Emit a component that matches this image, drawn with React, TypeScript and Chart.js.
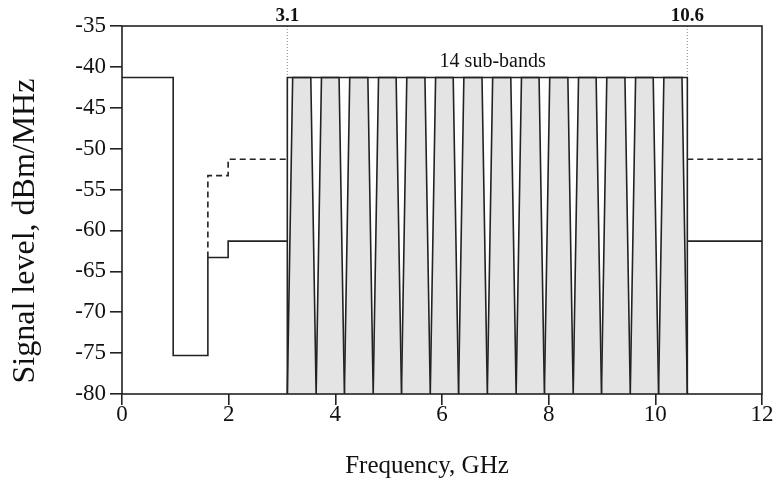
import { useEffect, useRef } from "react";
import { Chart, registerables } from "chart.js";

Chart.register(...registerables);

// Outdoor emission limit (solid), GHz / dBm per MHz
const outdoorFreq = [0, 0.96, 0.96, 1.61, 1.61, 1.99, 1.99, 3.1];
const outdoorLevel = [-41.3, -41.3, -75.3, -75.3, -63.3, -63.3, -61.3, -61.3];
const outdoorHighFreq = [10.6, 12];
const outdoorHighLevel = [-61.3, -61.3];

// Indoor emission limit (dashed)
const indoorFreq = [1.61, 1.61, 1.99, 1.99, 3.1];
const indoorLevel = [-63.3, -53.3, -53.3, -51.3, -51.3];
const indoorHighFreq = [10.6, 12];
const indoorHighLevel = [-51.3, -51.3];

// UWB band outline 3.1 – 10.6 GHz
const bandFreq = [3.1, 3.1, 10.6, 10.6];
const bandLevel = [-80, -41.3, -41.3, -80];

// 14 sub-band boundaries and their spectral shape
const subBandEdges = [3.1, 3.64, 4.17, 4.71, 5.24, 5.78, 6.31, 6.85, 7.39, 7.92, 8.46, 8.99, 9.53, 10.06, 10.6];
const subBandTopInset = 0.1;
const subBandPeak = -41.3;
const subBandFloor = -80;

// Band edge markers and annotation
const markerFreqs = [3.1, 10.6];
const markerLabels = ["3.1", "10.6"];
const markerTop = -35;
const noteText = "14 sub-bands";
const noteFreq = 6.95;
const noteLevel = -39.4;

const xTitle = "Frequency, GHz";
const yTitle = "Signal level, dBm/MHz";

const INK = "#222";
const SERIF = "'Liberation Serif', 'Times New Roman', serif";

const pts = (xs: number[], ys: number[]) => xs.map((x, i) => ({ x, y: ys[i] }));

export default function App() {
  const ref = useRef<HTMLCanvasElement | null>(null);

  useEffect(() => {
    if (!ref.current) return;
    document.body.style.margin = "0";
    document.documentElement.style.overflow = "hidden";

    const lineBase = {
      borderColor: INK,
      borderWidth: 1.6,
      pointRadius: 0,
      tension: 0,
      fill: false,
    };

    const datasets: any[] = [
      { ...lineBase, data: pts(outdoorFreq, outdoorLevel) },
      { ...lineBase, data: pts(outdoorHighFreq, outdoorHighLevel) },
      { ...lineBase, data: pts(bandFreq, bandLevel) },
      { ...lineBase, borderDash: [6, 4], data: pts(indoorFreq, indoorLevel) },
      { ...lineBase, borderDash: [6, 4], data: pts(indoorHighFreq, indoorHighLevel) },
    ];

    markerFreqs.forEach((f) => {
      datasets.push({
        ...lineBase,
        borderColor: "#888",
        borderWidth: 1,
        borderDash: [1, 2],
        data: [
          { x: f, y: markerTop },
          { x: f, y: subBandPeak },
        ],
      });
    });

    for (let i = 0; i < subBandEdges.length - 1; i++) {
      const a = subBandEdges[i];
      const b = subBandEdges[i + 1];
      datasets.push({
        ...lineBase,
        backgroundColor: "#e4e4e4",
        fill: "start",
        data: [
          { x: a, y: subBandFloor },
          { x: a + subBandTopInset, y: subBandPeak },
          { x: b - subBandTopInset, y: subBandPeak },
          { x: b, y: subBandFloor },
        ],
      });
    }

    const decor = {
      id: "decor",
      afterDraw(chart: any) {
        const { ctx, chartArea: ca, scales } = chart;
        const xs = scales.x;
        const ys = scales.y;
        ctx.save();
        ctx.strokeStyle = INK;
        ctx.lineWidth = 1.6;
        ctx.strokeRect(ca.left, ca.top, ca.right - ca.left, ca.bottom - ca.top);

        ctx.fillStyle = "#111";
        ctx.textAlign = "center";
        ctx.textBaseline = "alphabetic";
        ctx.font = `bold 19px ${SERIF}`;
        markerFreqs.forEach((f, i) => {
          ctx.fillText(markerLabels[i], xs.getPixelForValue(f), ca.top - 5);
        });

        ctx.font = `20px ${SERIF}`;
        ctx.textBaseline = "middle";
        ctx.fillText(noteText, xs.getPixelForValue(noteFreq), ys.getPixelForValue(noteLevel));

        ctx.font = `25px ${SERIF}`;
        ctx.fillText(xTitle, 427, 466);

        ctx.translate(26, 231);
        ctx.rotate(-Math.PI / 2);
        ctx.font = `32px ${SERIF}`;
        ctx.fillText(yTitle, 0, 0);
        ctx.restore();
      },
    };

    const chart = new Chart(ref.current, {
      type: "line",
      data: { datasets },
      options: {
        animation: false,
        responsive: true,
        maintainAspectRatio: false,
        layout: { padding: { top: 26, right: 12, left: 0, bottom: 0 } },
        plugins: {
          legend: { display: false },
          tooltip: { enabled: false },
        },
        scales: {
          x: {
            type: "linear",
            min: 0,
            max: 12,
            ticks: {
              stepSize: 2,
              color: "#111",
              padding: -4,
              font: { family: SERIF, size: 23 },
            },
            grid: {
              drawOnChartArea: false,
              drawTicks: true,
              tickLength: 11,
              color: INK,
              lineWidth: 1.6,
            },
            border: { display: false },
            afterFit: (s: any) => {
              s.height = 97;
              s.paddingLeft = 0;
              s.paddingRight = 0;
            },
          },
          y: {
            type: "linear",
            min: -80,
            max: -35,
            ticks: {
              stepSize: 5,
              color: "#111",
              padding: 4,
              font: { family: SERIF, size: 23 },
            },
            grid: {
              drawOnChartArea: false,
              drawTicks: true,
              tickLength: 12,
              color: INK,
              lineWidth: 1.6,
            },
            border: { display: false },
            afterFit: (s: any) => {
              s.width = 122;
              s.paddingTop = 0;
              s.paddingBottom = 0;
            },
          },
        },
      },
      plugins: [decor],
    });

    return () => chart.destroy();
  }, []);

  return (
    <div style={{ width: 774, height: 491, position: "relative" }}>
      <canvas ref={ref} />
    </div>
  );
}
